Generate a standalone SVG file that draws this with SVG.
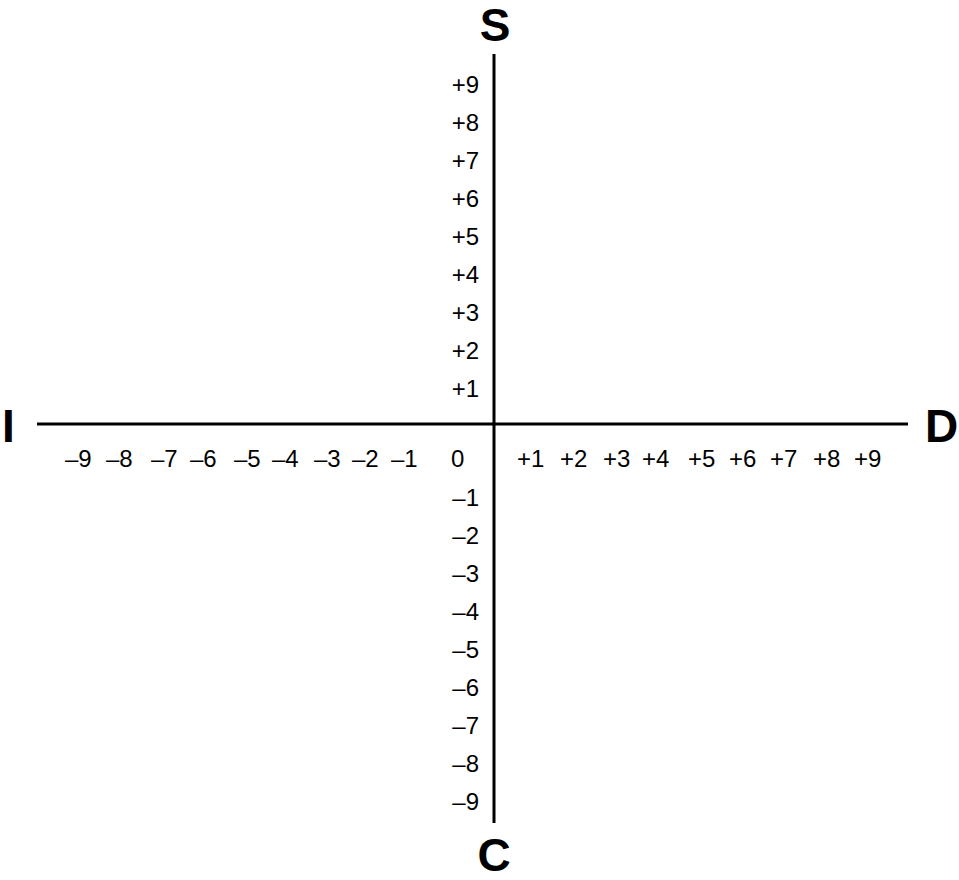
<svg xmlns="http://www.w3.org/2000/svg" width="959" height="880" viewBox="0 0 959 880">
<style>
.ax{stroke:#000;stroke-width:3;fill:none}
.big{font-family:"Liberation Sans",Arial,sans-serif;font-weight:bold;font-size:46px;fill:#000}
.n{font-family:"Liberation Sans",Arial,sans-serif;font-size:24px;fill:#000}
.v{text-anchor:end}
</style>
<rect width="959" height="880" fill="#fff"/>
<g id="axes">
<line class="ax" x1="494" y1="54" x2="494" y2="823"/>
<line class="ax" x1="37" y1="424" x2="908" y2="424"/>
</g>
<g id="S"><text class="big" x="495" y="41" text-anchor="middle">S</text></g>
<g id="C"><text class="big" x="494" y="871" text-anchor="middle">C</text></g>
<g id="I"><text class="big" x="2" y="442">I</text></g>
<g id="D"><text class="big" x="925" y="442">D</text></g>
<g id="vlabels">
<text class="n v" x="479" y="93">+9</text>
<text class="n v" x="479" y="131">+8</text>
<text class="n v" x="479" y="169">+7</text>
<text class="n v" x="479" y="207">+6</text>
<text class="n v" x="479" y="245">+5</text>
<text class="n v" x="479" y="283">+4</text>
<text class="n v" x="479" y="321">+3</text>
<text class="n v" x="479" y="359">+2</text>
<text class="n v" x="479" y="397">+1</text>
<text class="n v" x="479" y="506">–1</text>
<text class="n v" x="479" y="544">–2</text>
<text class="n v" x="479" y="582">–3</text>
<text class="n v" x="479" y="620">–4</text>
<text class="n v" x="479" y="658">–5</text>
<text class="n v" x="479" y="696">–6</text>
<text class="n v" x="479" y="734">–7</text>
<text class="n v" x="479" y="772">–8</text>
<text class="n v" x="479" y="810">–9</text>
</g>
<g id="hlabels">
<text class="n" x="65" y="467">–9</text>
<text class="n" x="106" y="467">–8</text>
<text class="n" x="151" y="467">–7</text>
<text class="n" x="190" y="467">–6</text>
<text class="n" x="234" y="467">–5</text>
<text class="n" x="272" y="467">–4</text>
<text class="n" x="314" y="467">–3</text>
<text class="n" x="352" y="467">–2</text>
<text class="n" x="391" y="467">–1</text>
<text class="n" x="451" y="467">0</text>
<text class="n" x="517" y="467">+1</text>
<text class="n" x="560" y="467">+2</text>
<text class="n" x="603" y="467">+3</text>
<text class="n" x="642" y="467">+4</text>
<text class="n" x="688" y="467">+5</text>
<text class="n" x="729" y="467">+6</text>
<text class="n" x="770" y="467">+7</text>
<text class="n" x="813" y="467">+8</text>
<text class="n" x="854" y="467">+9</text>
</g>
</svg>
